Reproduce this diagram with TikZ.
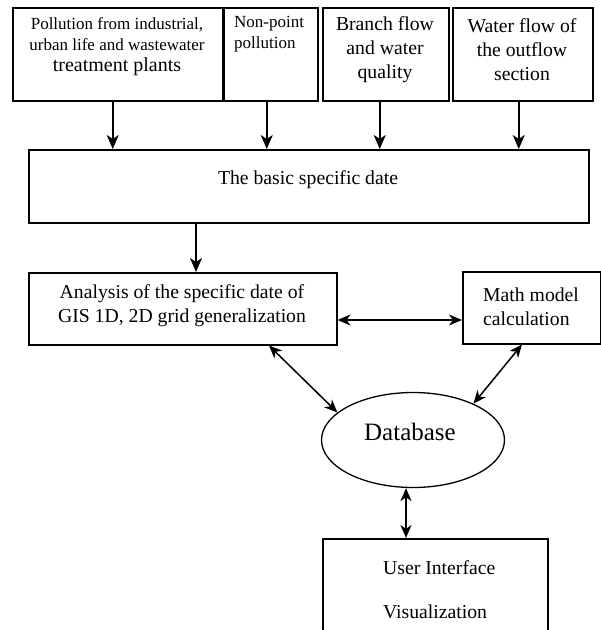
\documentclass[tikz,border=0pt]{standalone}
\usepackage{fontspec}
\setmainfont{Liberation Serif}
\usetikzlibrary{shapes.geometric,arrows.meta}
\begin{document}
\begin{tikzpicture}[x=1pt,y=-1pt,
  box/.style={draw,line width=1.5pt,inner sep=0pt,anchor=north west},
  lbl/.style={inner sep=0pt,align=center},
  arr/.style={line width=1.5pt,-{Stealth[length=14pt,width=12pt,inset=4pt]}},
  darr/.style={line width=1.5pt,{Stealth[length=13pt,width=11pt,inset=4pt]}-{Stealth[length=13pt,width=11pt,inset=4pt]}},
  main/.style={font=\fontsize{19.7}{24}\selectfont},
  small/.style={font=\fontsize{17}{21}\selectfont}]
\useasboundingbox (0,0) rectangle (601,630);
\clip (0,0) rectangle (601,630);
% top boxes
\node[box,minimum width=210pt,minimum height=93pt] (b1) at (12,7) {};
\node[box,minimum width=94pt,minimum height=93pt] (b2) at (223,7) {};
\node[box,minimum width=126pt,minimum height=93pt] (b3) at (322,7) {};
\node[box,minimum width=140pt,minimum height=93pt] (b4) at (452,7) {};
\node[lbl,small] (t1) at (117,47) {Pollution from industrial,\\urban life and wastewater\\{\fontsize{20}{25}\selectfont treatment plants}};
\node[lbl,small,align=left,anchor=west] (t2) at (234,34) {Non-point\\pollution};
\node[lbl,main] (t3) at (385,50) {Branch flow\\and water\\quality};
\node[lbl,main] (t4) at (522,50) {Water flow of\\the outflow\\section};
% basic box
\node[box,minimum width=560pt,minimum height=73pt] (basic) at (28,149) {};
\node[lbl,main] (tb) at (308,180) {The basic specific date};
% analysis and math
\node[box,minimum width=308pt,minimum height=72pt] (ana) at (28,272) {};
\node[lbl,main] (ta) at (182,306) {Analysis of the specific date of\\GIS 1D, 2D grid generalization};
\node[box,minimum width=138pt,minimum height=72pt] (math) at (462,271) {};
\node[lbl,main,align=left,anchor=west] (tm) at (483,307) {Math model\\calculation};
% database
\node[draw,ellipse,line width=1.3pt,minimum width=183pt,minimum height=95pt,inner sep=0pt] (db) at (413,440) {};
\node[lbl,font=\fontsize{25}{30}\selectfont] (tdb) at (410,432) {Database};
% user interface
\node[box,minimum width=225pt,minimum height=120pt] (ui) at (322,538) {};
\node[lbl,align=left,anchor=west,font=\fontsize{19.7}{44}\selectfont] (tu) at (383,590) {User Interface\\Visualization};
% arrows
\draw[arr] ([xshift=-5pt]b1.south) -- ([xshift=-5pt]b1.south |- basic.north);
\draw[arr] ([xshift=-4pt]b2.south) -- ([xshift=-4pt]b2.south |- basic.north);
\draw[arr] ([xshift=-6pt]b3.south) -- ([xshift=-6pt]b3.south |- basic.north);
\draw[arr] ([xshift=-4pt]b4.south) -- ([xshift=-4pt]b4.south |- basic.north);
\draw[arr] (basic.south -| 196,0) -- (ana.north -| 196,0);
\draw[darr] (ana.east |- 0,320) -- (math.west |- 0,320);
\draw[darr] (ana.south -| 269,0) -- (db.160);
\draw[darr] (math.south -| 522,0) -- (db.31);
\draw[darr] ([xshift=-7pt]db.south) -- ([xshift=-7pt]db.south |- ui.north);
\end{tikzpicture}
\end{document}
